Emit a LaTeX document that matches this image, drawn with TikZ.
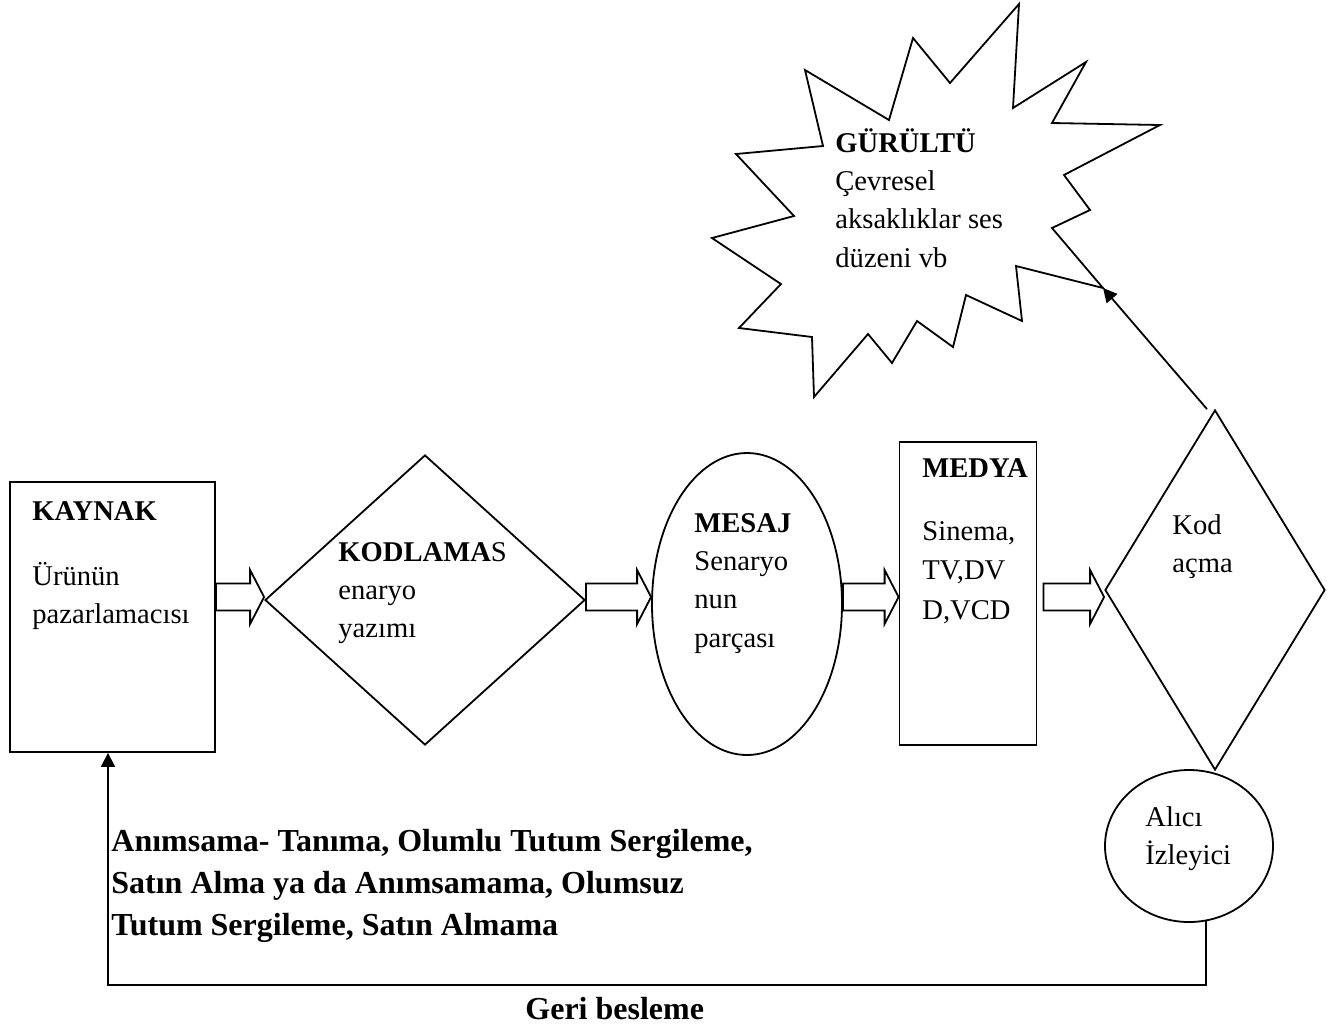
\documentclass[tikz,border=0pt]{standalone}
\usepackage{fontspec}
\setmainfont{Liberation Serif}
\usetikzlibrary{shapes.geometric,arrows.meta,calc}

\tikzset{
  kutu/.style={draw, line width=0.9pt, inner sep=0pt},
  yildiz/.style={draw, line width=0.9pt, line join=miter},
  blokok/.style={draw, line width=0.9pt, fill=white},
  okcizgi/.style={draw, line width=0.9pt, -{Triangle[length=7pt,width=7pt]}},
  metin/.style={inner sep=0pt, anchor=base west, font=\fontsize{14.3}{19.2}\selectfont},
  kalin/.style={inner sep=0pt, anchor=base west, font=\fontsize{16}{21}\selectfont\bfseries}
}
\newcommand{\satirlar}[1]{\begin{tabular}[t]{@{}l@{}}#1\end{tabular}}
\newcommand{\blokok}[2]{%
  \draw[blokok] let \p1=(#1), \p2=(#2), \p3=(okhat) in
    (\x1,\y3+6.75pt) -- (\x2-7pt,\y3+6.75pt) -- (\x2-7pt,\y3+13.5pt) -- (\x2,\y3)
    -- (\x2-7pt,\y3-13.5pt) -- (\x2-7pt,\y3-6.75pt) -- (\x1,\y3-6.75pt) -- cycle;}

\begin{document}
\begin{tikzpicture}[x=0.5pt, y=-0.5pt]
\useasboundingbox (0,0) rectangle (1340,1030);

% sekiller
\node[kutu, rectangle, minimum width=102.5pt, minimum height=135pt] (kaynak) at (112.5,617) {};
\node[kutu, diamond, minimum width=160pt, minimum height=145pt] (kodlama) at (425,600) {};
\node[kutu, ellipse, minimum width=95pt, minimum height=151pt] (mesaj) at (747,604) {};
\node[kutu, rectangle, minimum width=68.5pt, minimum height=151.5pt] (medya) at (968,593.5) {};
\node[kutu, diamond, minimum width=110pt, minimum height=180pt] (kodacma) at (1215,590) {};
\node[kutu, ellipse, minimum width=84pt, minimum height=76pt] (alici) at (1189,846) {};

% gurultu yildizi
\draw[yildiz] (1019,4) -- (1013,108) -- (1086,62) -- (1052,123) -- (1160,125) -- (1064,175)
  -- (1090,210) -- (1052,228) -- (1103,288) -- (1016,266) -- (1022,321) -- (966,295)
  -- (953,347) -- (917,321) -- (892,363) -- (868,334) -- (814,397) -- (812,337)
  -- (739,328) -- (781,284) -- (712,238) -- (794,216) -- (736,154) -- (823,146)
  -- (805,70) -- (889,120) -- (913,38) -- (950,83) -- cycle;

\coordinate (yildizucu) at (1103,288);
\coordinate (okhat) at (0,597);
\coordinate (donus) at (108,985);

% blok oklar
\blokok{kaynak.east}{kodlama.west}
\blokok{kodlama.east}{mesaj.west}
\blokok{mesaj.east}{medya.west}
\blokok{[xshift=3pt]medya.east}{kodacma.west}

% oklar
\draw[okcizgi] ([xshift=-4pt]kodacma.north) -- (yildizucu);
\draw[okcizgi] (alici.-77) |- (donus) -- (donus |- kaynak.south);

% yazilar
\node[metin] (kaynakyazi) at (32,520) {\satirlar{\textbf{KAYNAK}\\[13.3pt] Ürünün\\ pazarlamacısı}};
\node[metin] (kodlamayazi) at (338,561) {\satirlar{\textbf{KODLAMA}S\\ enaryo\\ yazımı}};
\node[metin] (mesajyazi) at (694,532) {\satirlar{\textbf{MESAJ}\\ Senaryo\\ nun\\ parçası}};
\node[metin] (medyayazi) at (922,477) {\satirlar{\textbf{MEDYA}\\[12.3pt] Sinema,\\[0.3pt] TV,DV\\[0.8pt] D,VCD}};
\node[metin] (kodacmayazi) at (1172,534) {\satirlar{Kod\\ açma}};
\node[metin] (aliciyazi) at (1145,826) {\satirlar{Alıcı\\ İzleyici}};
\node[metin] (gurultuyazi) at (835,152) {\satirlar{\textbf{GÜRÜLTÜ}\\ Çevresel\\ aksaklıklar ses\\ düzeni vb}};
\node[kalin] (geriyazi) at (111,851) {\satirlar{Anımsama- Tanıma, Olumlu Tutum Sergileme,\\ Satın Alma ya da Anımsamama, Olumsuz\\ Tutum Sergileme, Satın Almama}};
\node[kalin] (geribesleme) at (525,1019) {Geri besleme};
\end{tikzpicture}
\end{document}
